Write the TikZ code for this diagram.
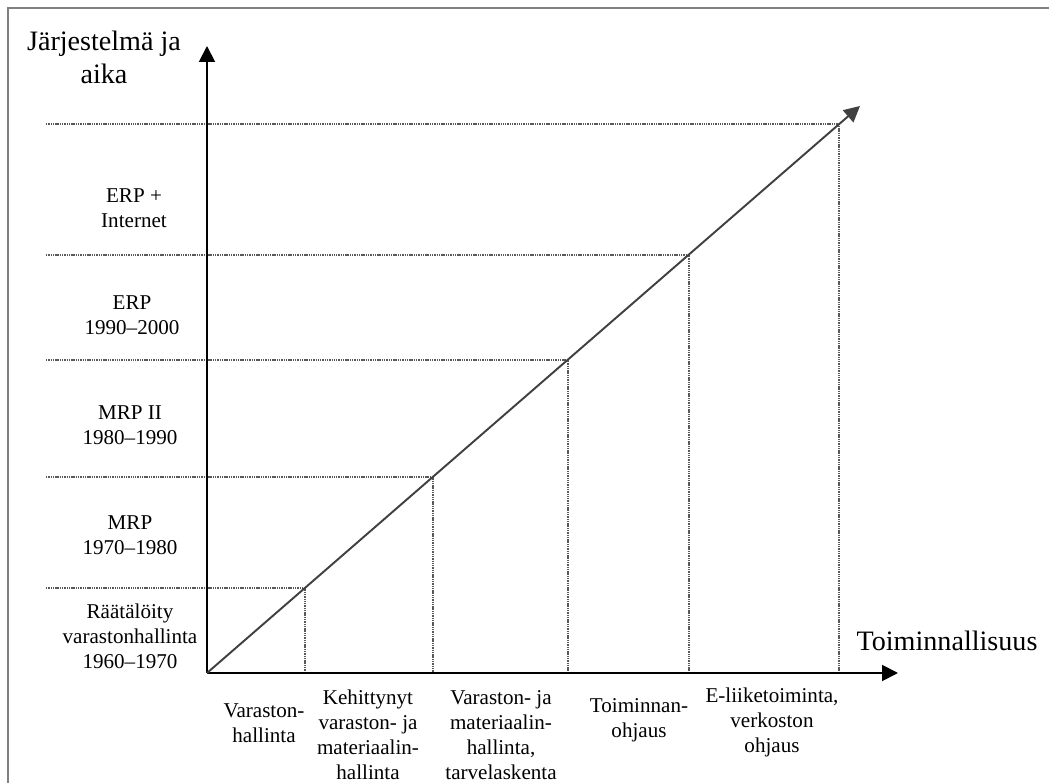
\documentclass[tikz,border=0pt]{standalone}
\usepackage{fontspec}
\setmainfont{Liberation Serif}
\usetikzlibrary{positioning, calc, arrows.meta}

\begin{document}
\begin{tikzpicture}[
      x=0.02cm, y=-0.02cm,
      lbl/.style={align=center, inner sep=0pt, font=\fontsize{12}{14.2}\selectfont},
      biglbl/.style={align=center, inner sep=0pt, font=\fontsize{16}{18.8}\selectfont},
      axis/.style={draw, -{Triangle[length=9pt, width=9pt]}, line width=1.1pt},
      diag/.style={draw=black!75, -{Triangle[length=9pt, width=9pt]}, line width=1.1pt},
      guide/.style={draw=black!65, line width=0.6pt, dash pattern=on 0.8pt off 0.5pt},
      frame/.style={draw=black!50, line width=1.1pt}
    ]
    \useasboundingbox (0,0) rectangle (1049,783);
    % Frame
    \draw [frame] (1049,8) -- (8,8) -- (8,783);

    % Axes
    \coordinate (origin) at (207,673);
    \coordinate (ytip) at (207,46);
    \coordinate (xtip) at (898,673);
    \coordinate (dtip) at (860,106);

    % Points on the diagonal
    \coordinate (g1) at (305,588);
    \coordinate (g2) at (433,477);
    \coordinate (g3) at (568,360);
    \coordinate (g4) at (689,255);
    \coordinate (g5) at (839,124);

    % Guides
    \draw [guide] (46,588) -- (g1) -- (g1 |- origin);
    \draw [guide] (46,477) -- (g2) -- (g2 |- origin);
    \draw [guide] (46,360) -- (g3) -- (g3 |- origin);
    \draw [guide] (46,255) -- (g4) -- (g4 |- origin);
    \draw [guide] (46,124) -- (g5) -- (g5 |- origin);

    \path [axis] (origin) -- (ytip);
    \path [axis] (origin) -- (xtip);
    \path [diag] (origin) -- (dtip);

    % Axis titles
    \node [biglbl] (ytitle) at (104,57) {Järjestelmä ja\\aika};
    \node [biglbl] (xtitle) at (947,641) {Toiminnallisuus};

    % Systems and periods
    \node [lbl] (erpnet) at (134,208) {ERP +\\Internet};
    \node [lbl] (erp) at (132,315) {ERP\\1990–2000};
    \node [lbl] (mrp2) at (130,425) {MRP II\\1980–1990};
    \node [lbl] (mrp) at (130,535) {MRP\\1970–1980};
    \node [lbl] (custom) at (130,636) {Räätälöity\\varastonhallinta\\1960–1970};

    % Functionality
    \node [lbl] (stock) at (264,723) {Varaston-\\hallinta};
    \node [lbl] (advstock) at (368,735) {Kehittynyt\\varaston- ja\\materiaalin-\\hallinta};
    \node [lbl] (material) at (501,735) {Varaston- ja\\materiaalin-\\hallinta,\\tarvelaskenta};
    \node [lbl] (control) at (639,720) {Toiminnan-\\ohjaus};
    \node [lbl] (ebiz) at (772,722) {E-liiketoiminta,\\verkoston\\ohjaus};
  \end{tikzpicture}
\end{document}
